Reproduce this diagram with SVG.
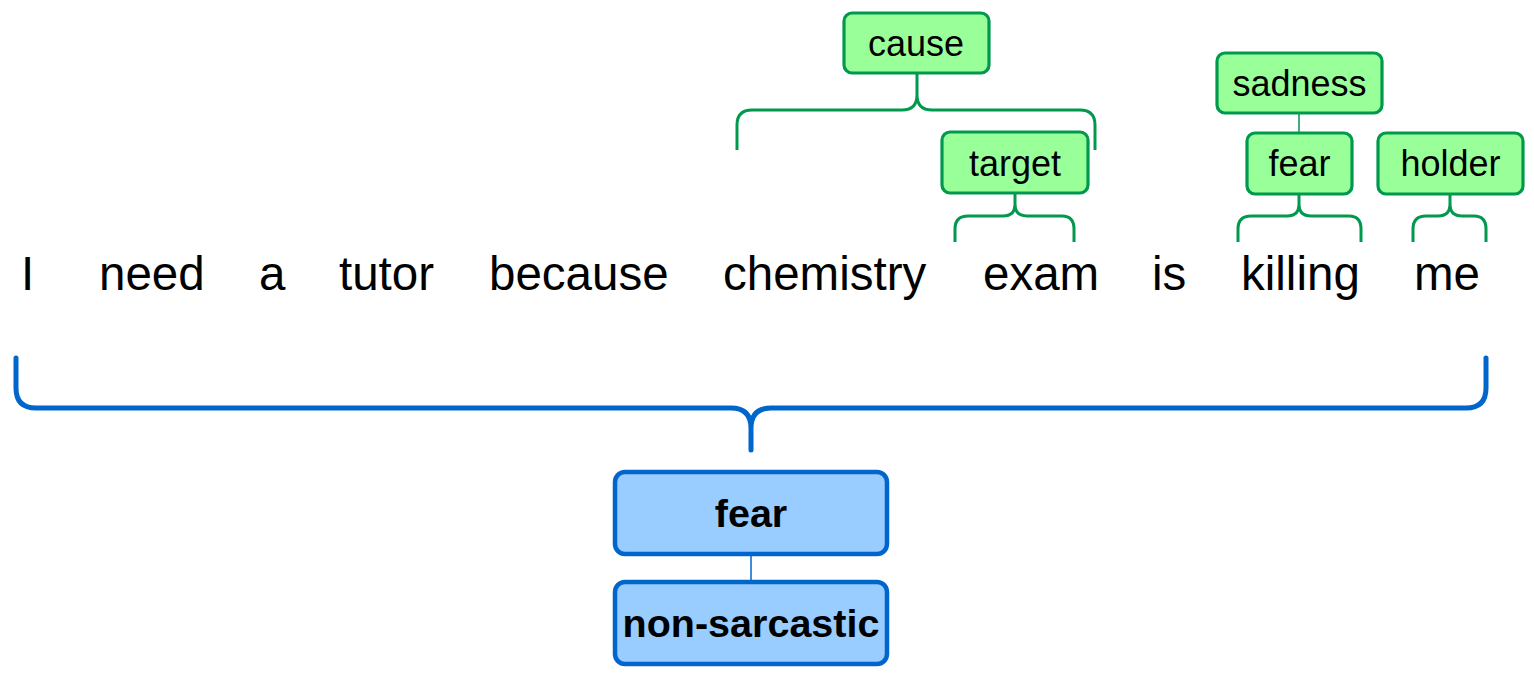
<svg xmlns="http://www.w3.org/2000/svg" width="1534" height="676" viewBox="0 0 1534 676">
<style>
.g rect{fill:#99FF99;stroke:#00994D;stroke-width:3.2}
.b rect{fill:#99CCFF;stroke:#0066CC;stroke-width:4.5}
.lbl{font-family:"Liberation Sans",Arial,sans-serif;font-size:36px;fill:#000;text-anchor:middle}
.blbl{font-family:"Liberation Sans",Arial,sans-serif;font-size:39.5px;font-weight:bold;fill:#000;text-anchor:middle}
.w{font-family:"Liberation Sans",Arial,sans-serif;font-size:47.5px;fill:#000}
.gb{fill:none;stroke:#00994D;stroke-width:3}
.gl{fill:none;stroke:#00994D;stroke-width:1.5}
.bb{fill:none;stroke:#0066CC;stroke-width:5;stroke-linecap:round}
.bl{fill:none;stroke:#0066CC;stroke-width:1.5}
</style>
<rect width="1534" height="676" fill="#fff"/>
<g id="connectors">
<path class="gb" d="M737,150 L737,125 Q737,110 752,110 L902,110 Q917,110 917,95 L917,73 M917,95 Q917,110 932,110 L1080,110 Q1095,110 1095,125 L1095,150"/>
<path class="gb" d="M955,242 L955,229 Q955,216 968,216 L1003,216 Q1015,216 1015,204 L1015,193 M1015,204 Q1015,216 1027,216 L1062,216 Q1074,216 1074,229 L1074,242"/>
<path class="gb" d="M1238,242 L1238,229 Q1238,216 1251,216 L1287,216 Q1299,216 1299,204 L1299,194 M1299,204 Q1299,216 1311,216 L1349,216 Q1361,216 1361,229 L1361,242"/>
<path class="gb" d="M1413,242 L1413,229 Q1413,216 1426,216 L1438,216 Q1450,216 1450,204 L1450,194 M1450,204 Q1450,216 1462,216 L1474,216 Q1486,216 1486,229 L1486,242"/>
<line class="gl" x1="1299" y1="113" x2="1299" y2="133"/>
<path class="bb" d="M16,358 L16,388 Q16,408 36,408 L731,408 Q751,408 751,428 L751,450 M751,428 Q751,408 771,408 L1466,408 Q1486,408 1486,388 L1486,358"/>
<line class="bl" x1="751" y1="555" x2="751" y2="581"/>
</g>
<g id="sentence">
<text class="w" x="21" y="290">I</text>
<text class="w" x="99" y="290">need</text>
<text class="w" x="259" y="290">a</text>
<text class="w" x="339" y="290">tutor</text>
<text class="w" x="489" y="290">because</text>
<text class="w" x="723" y="290">chemistry</text>
<text class="w" x="983" y="290">exam</text>
<text class="w" x="1152" y="290">is</text>
<text class="w" x="1241" y="290">killing</text>
<text class="w" x="1414" y="290">me</text>
</g>
<g id="node-cause" class="g"><rect x="844" y="13" width="145" height="60" rx="8"/><text class="lbl" x="916" y="56">cause</text></g>
<g id="node-target" class="g"><rect x="942" y="132" width="146" height="61" rx="8"/><text class="lbl" x="1015" y="175.5">target</text></g>
<g id="node-sadness" class="g"><rect x="1217" y="53" width="165" height="60" rx="8"/><text class="lbl" x="1299.5" y="96">sadness</text></g>
<g id="node-fear-green" class="g"><rect x="1247" y="133" width="105" height="61" rx="8"/><text class="lbl" x="1299.5" y="176">fear</text></g>
<g id="node-holder" class="g"><rect x="1378" y="133" width="145" height="61" rx="8"/><text class="lbl" x="1450.5" y="176">holder</text></g>
<g id="node-fear-blue" class="b"><rect x="615" y="472" width="272" height="82" rx="10"/><text class="blbl" x="751" y="527">fear</text></g>
<g id="node-nonsarcastic" class="b"><rect x="615" y="582" width="272" height="82" rx="10"/><text class="blbl" x="751" y="637">non-sarcastic</text></g>
</svg>
